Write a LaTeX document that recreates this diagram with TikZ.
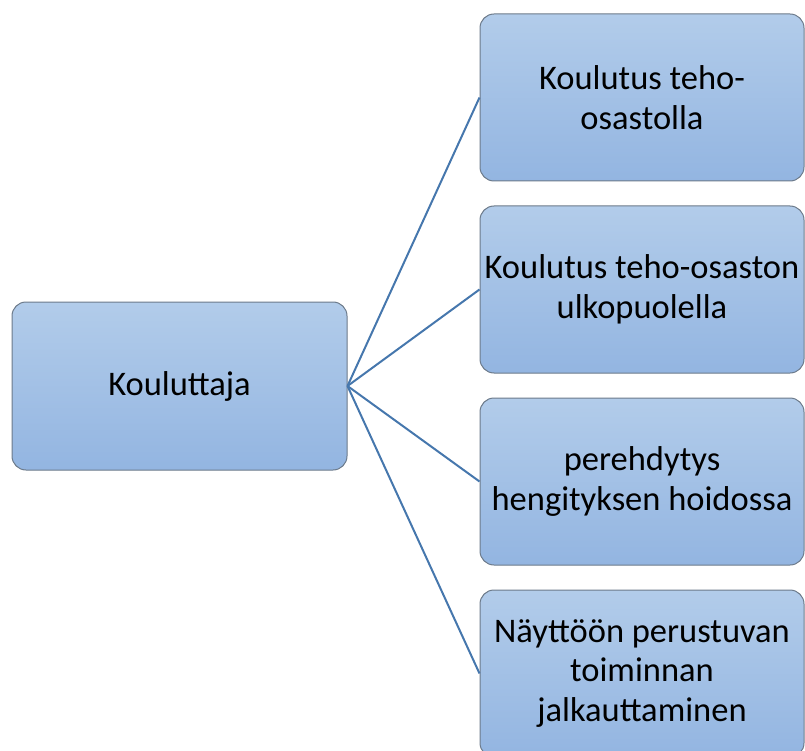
\documentclass[tikz,border=0pt]{standalone}
\usepackage{fontspec}
\setmainfont{Carlito}
\definecolor{boxtop}{HTML}{B2CCEA}
\definecolor{boxbot}{HTML}{93B5E1}
\definecolor{boxline}{HTML}{6C7A8A}
\definecolor{linkcol}{HTML}{4677AD}
\tikzset{
  x=1pt, y=-1pt,
  itembox/.style={draw=boxline, line width=1pt, rounded corners=14pt,
    top color=boxtop, bottom color=boxbot, align=center,
    font=\fontsize{34.5}{39.5}\selectfont, inner sep=0pt},
  link/.style={draw=linkcol, line width=2pt}
}
\begin{document}
\begin{tikzpicture}
\useasboundingbox (0,0) rectangle (805,751);
\clip (0,0) rectangle (805,751);
\node[itembox, minimum width=335pt, minimum height=168pt] (root) at (179.5,386) {Kouluttaja};
\node[itembox, minimum width=324pt, minimum height=167pt] (a) at (642,97.5) {Koulutus teho-\\osastolla};
\node[itembox, minimum width=324pt, minimum height=167pt] (b) at (642,289.5) {Koulutus teho-osaston\\ulkopuolella};
\node[itembox, minimum width=324pt, minimum height=167pt] (c) at (642,481.5) {perehdytys\\hengityksen hoidossa};
\node[itembox, minimum width=324pt, minimum height=167pt] (d) at (642,673.5) {Näyttöön perustuvan\\toiminnan\\jalkauttaminen};
\foreach \t in {a,b,c,d}
  \draw[link] (root.east) -- (\t.west);
\end{tikzpicture}
\end{document}
